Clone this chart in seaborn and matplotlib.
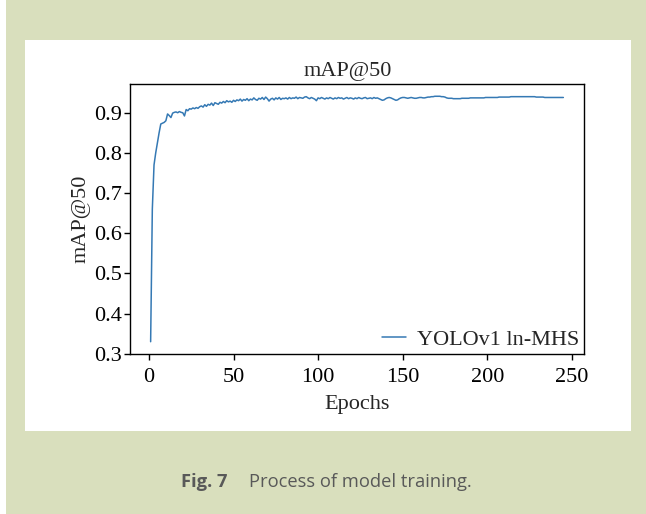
import numpy as np
import pandas as pd
import seaborn as sns
import matplotlib.pyplot as plt
from matplotlib.patches import Rectangle

# mAP@50 per epoch
map50 = [
    0.330, 0.660, 0.770, 0.800, 0.825, 0.850, 0.872, 0.874, 0.876, 0.880,
    0.897, 0.893, 0.888, 0.899, 0.901, 0.902, 0.900, 0.903, 0.901, 0.900,
    0.892, 0.908, 0.905, 0.910, 0.909, 0.912, 0.910, 0.913, 0.911, 0.915,
    0.917, 0.914, 0.920, 0.916, 0.921, 0.919, 0.924, 0.918, 0.925, 0.923,
    0.921, 0.926, 0.924, 0.928, 0.925, 0.930, 0.927, 0.929, 0.926, 0.931,
    0.928, 0.932, 0.930, 0.934, 0.929, 0.933, 0.931, 0.935, 0.930, 0.934,
    0.932, 0.937, 0.933, 0.931, 0.936, 0.934, 0.938, 0.933, 0.939, 0.935,
    0.929, 0.934, 0.936, 0.932, 0.937, 0.934, 0.938, 0.933, 0.936, 0.935,
    0.937, 0.934, 0.938, 0.935, 0.937, 0.936, 0.939, 0.935, 0.938, 0.937,
    0.936, 0.939, 0.940, 0.937, 0.935, 0.938, 0.936, 0.934, 0.930, 0.937,
    0.935, 0.938, 0.936, 0.934, 0.937, 0.935, 0.938, 0.936, 0.934, 0.937,
    0.935, 0.938, 0.936, 0.937, 0.934, 0.936, 0.938, 0.935, 0.937, 0.936,
    0.934, 0.937, 0.935, 0.938, 0.936, 0.935, 0.937, 0.938, 0.935, 0.936,
    0.937, 0.935, 0.938, 0.936, 0.937, 0.935, 0.933, 0.931, 0.932, 0.935,
    0.937, 0.938, 0.937, 0.935, 0.933, 0.931, 0.932, 0.935, 0.937, 0.938,
    0.938, 0.937, 0.936, 0.937, 0.938, 0.937, 0.936, 0.936, 0.937, 0.938,
    0.938, 0.937, 0.937, 0.938, 0.939, 0.939, 0.940, 0.940, 0.941, 0.941,
    0.941, 0.941, 0.940, 0.940, 0.939, 0.937, 0.936, 0.936, 0.936, 0.935,
    0.935, 0.935, 0.935, 0.935, 0.936, 0.936, 0.936, 0.936, 0.936, 0.937,
    0.937, 0.937, 0.937, 0.937, 0.937, 0.937, 0.937, 0.937, 0.938, 0.938,
    0.938, 0.938, 0.938, 0.938, 0.938, 0.938, 0.939, 0.939, 0.939, 0.939,
    0.939, 0.939, 0.939, 0.940, 0.940, 0.940, 0.940, 0.940, 0.940, 0.940,
    0.940, 0.940, 0.940, 0.940, 0.940, 0.940, 0.940, 0.940, 0.939, 0.939,
    0.939, 0.939, 0.939, 0.938, 0.938, 0.938, 0.938, 0.938, 0.938, 0.938,
    0.938, 0.938, 0.938, 0.938, 0.938,
]
epochs = list(range(1, len(map50) + 1))
series_name = 'YOLOv1 ln-MHS'

df = pd.DataFrame({'Epochs': epochs, 'mAP@50': map50})

sns.set_style('ticks')
plt.rcParams['font.family'] = ['Liberation Serif', 'DejaVu Serif']
plt.rcParams['axes.linewidth'] = 1.0

W, H = 646, 514
fig = plt.figure(figsize=(W / 100, H / 100), dpi=100, facecolor='#d9dfbd')

# white panel behind the chart and thin white strip on the left edge
fig.patches.append(Rectangle((0, 0), 6 / W, 1, transform=fig.transFigure,
                             facecolor='white', edgecolor='none', zorder=-5))
fig.patches.append(Rectangle((25 / W, 1 - 431 / H), 606 / W, 391 / H,
                             transform=fig.transFigure, facecolor='white',
                             edgecolor='none', zorder=-5))

ax = fig.add_axes([130 / W, 1 - 354 / H, 454 / W, 270 / H])
ax.set_zorder(2)
sns.lineplot(data=df, x='Epochs', y='mAP@50', ax=ax, color='#3579b4',
             linewidth=1.1, label=series_name)

fs = 16
ax.set_yticks([0.3, 0.4, 0.5, 0.6, 0.7, 0.8, 0.9])
ax.set_xticks([0, 50, 100, 150, 200, 250])
ax.tick_params(labelsize=fs, length=4, width=1, colors='black', pad=2)
ax.tick_params(axis='x', pad=6)
ax.set_xlabel('Epochs', fontsize=fs, labelpad=6)
ax.set_ylabel('mAP@50', fontsize=fs, labelpad=2)
ax.set_title('mAP@50', fontsize=fs, x=0.48, pad=6)
for s in ax.spines.values():
    s.set_color('black')

ax.legend(loc='lower right', frameon=False, fontsize=fs, handlelength=1.1,
          handletextpad=0.5, borderaxespad=0.0, borderpad=0.2)

fig.text(181 / W, 1 - 482 / H, 'Fig. 7', fontsize=13.2, fontweight='bold',
         color='#595959', family=['Open Sans', 'DejaVu Sans'],
         ha='left', va='center')
fig.text(249 / W, 1 - 482 / H, 'Process of model training.', fontsize=13.2,
         color='#595959', family=['Open Sans', 'DejaVu Sans'],
         ha='left', va='center')

fig.savefig('out.png', dpi=100, facecolor=fig.get_facecolor())
